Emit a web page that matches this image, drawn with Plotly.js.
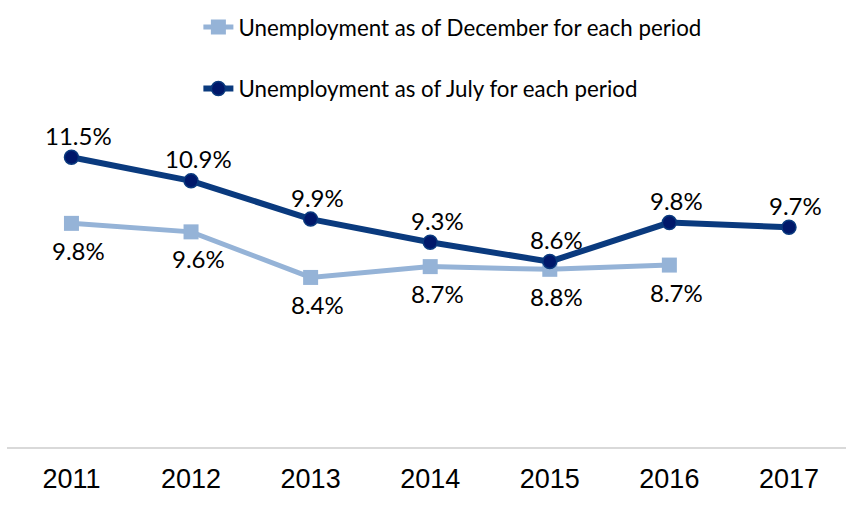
<!DOCTYPE html>
<html>
<head>
<meta charset="utf-8">
<script src="https://cdn.plot.ly/plotly-3.0.1.min.js"></script>
<style>html,body{margin:0;padding:0;background:#fff;}#chart{width:846px;height:505px;}</style>
</head>
<body>
<div id="chart"></div>
<script>
const years = ['2011', '2012', '2013', '2014', '2015', '2016', '2017'];
const decYears = ['2011', '2012', '2013', '2014', '2015', '2016'];
const decValues = [9.79, 9.57, 8.39, 8.67, 8.60, 8.71];
const julValues = [11.50, 10.89, 9.90, 9.30, 8.80, 9.81, 9.69];
const decLabels = ['9.8%', '9.6%', '8.4%', '8.7%', '8.8%', '8.7%'];
const julLabels = ['11.5%', '10.9%', '9.9%', '9.3%', '8.6%', '9.8%', '9.7%'];
const decName = 'Unemployment as of December for each period';
const julName = 'Unemployment as of July for each period';

const labelFont = {family: 'Lato, "Open Sans", sans-serif', size: 24, color: '#000'};

const traces = [
  {
    x: decYears, y: decValues, name: decName, type: 'scatter', mode: 'lines+markers',
    legendgroup: 'dec',
    line: {color: '#95B3D7', width: 5},
    marker: {symbol: 'square', size: 15, color: '#95B3D7'}
  },
  {
    x: years, y: julValues, name: julName, type: 'scatter', mode: 'lines+markers',
    legendgroup: 'jul',
    line: {color: '#0A3A7E', width: 6},
    marker: {symbol: 'circle', size: 14, color: '#00186A', line: {color: '#0A3A7E', width: 1.5}}
  }
];

const annotations = [];
julLabels.forEach((t, i) => annotations.push({
  xref: 'x', yref: 'y', x: years.indexOf(years[i]), y: julValues[i], text: t, showarrow: false,
  xanchor: 'center', yanchor: 'middle', xshift: 7, yshift: 22,
  font: Object.assign({}, labelFont)
}));
decLabels.forEach((t, i) => annotations.push({
  xref: 'x', yref: 'y', x: years.indexOf(decYears[i]), y: decValues[i], text: t, showarrow: false,
  xanchor: 'center', yanchor: 'middle', xshift: 7, yshift: -27,
  font: Object.assign({}, labelFont)
}));

const layout = {
  width: 846, height: 505,
  margin: {l: 7, r: 0, t: 138, b: 58, pad: 0, autoexpand: false},
  paper_bgcolor: '#fff', plot_bgcolor: '#fff',
  showlegend: true,
  legend: {
    xref: 'container', yref: 'container', x: 0.2345, y: 0.988, xanchor: 'left', yanchor: 'top',
    orientation: 'v', traceorder: 'grouped', tracegroupgap: 29.5,
    font: {family: 'Lato, "Open Sans", sans-serif', size: 22.3, color: '#000'},
    bgcolor: 'rgba(0,0,0,0)', itemwidth: 30
  },
  xaxis: {
    type: 'category', categoryarray: years, categoryorder: 'array',
    range: [-0.539, 6.477], fixedrange: true, tickangle: 0, ticklabelstandoff: 7,
    showgrid: false, zeroline: false, showline: true, linecolor: '#D9D9D9', linewidth: 2,
    ticks: '', tickfont: {family: '"Liberation Sans", Arial, sans-serif', size: 27, color: '#000'}
  },
  yaxis: {
    range: [4, 12], visible: false, showgrid: false, zeroline: false, fixedrange: true
  },
  annotations: annotations
};

Plotly.newPlot('chart', traces, layout, {displayModeBar: false, staticPlot: true});
</script>
</body>
</html>
